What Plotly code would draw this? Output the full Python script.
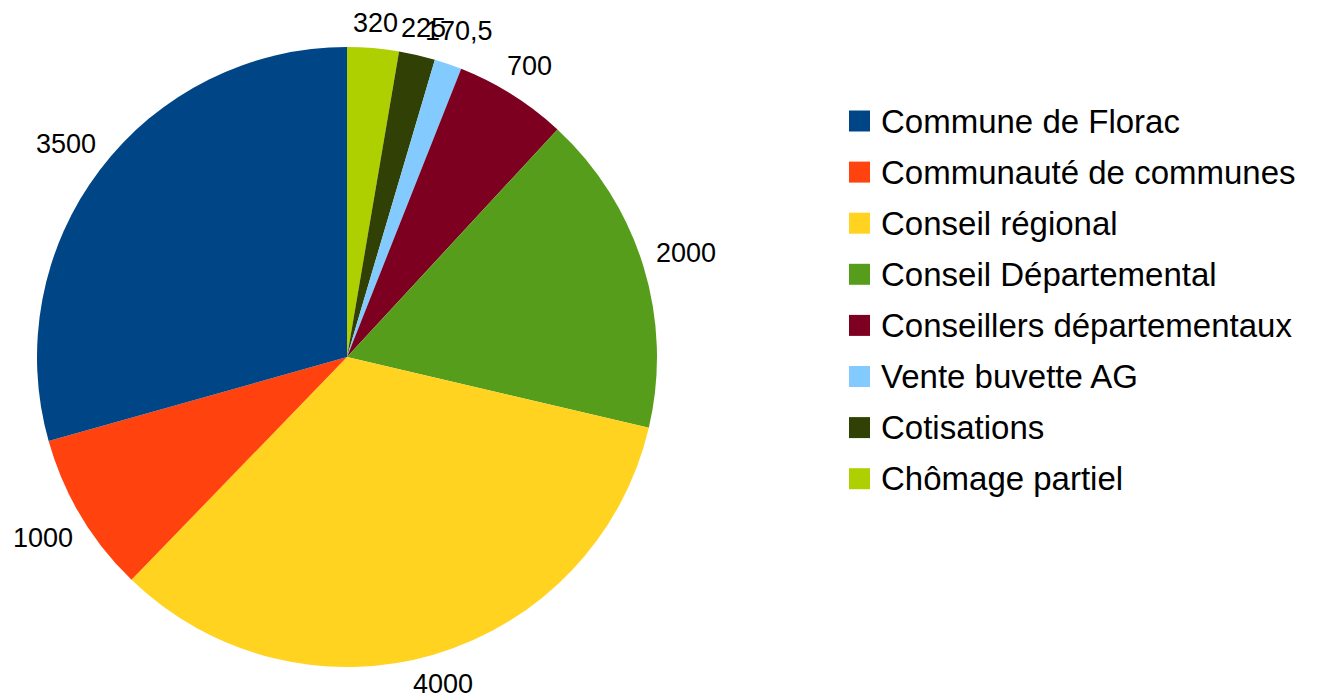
import math
import plotly.graph_objects as go

labels = ["Commune de Florac", "Communauté de communes", "Conseil régional",
          "Conseil Départemental", "Conseillers départementaux",
          "Vente buvette AG", "Cotisations", "Chômage partiel"]
values = [3500, 1000, 4000, 2000, 700, 170.5, 225, 320]
value_text = ["3500", "1000", "4000", "2000", "700", "170,5", "225", "320"]
colors = ["#004586", "#ff420e", "#ffd320", "#579d1c", "#7e0021",
          "#83caff", "#314004", "#aecf00"]

W, H = 1320, 700
OFF = 8                 # page body margin offset
CX, CY, R = 347 - OFF, 357 - OFF, 310   # pie centre / radius in px
LABEL_FS = 27

# The reference goes counterclockwise from 12 o'clock; equivalent to the
# reversed series drawn clockwise from 12 o'clock.
fig = go.Figure(go.Pie(
    labels=labels[::-1], values=values[::-1],
    textinfo="none", sort=False, direction="clockwise", rotation=0,
    marker=dict(colors=colors[::-1], line=dict(width=0)),
    domain=dict(x=[(CX - R)/W, (CX + R)/W], y=[1-(CY + R)/H, 1-(CY - R)/H]),
    hoverinfo="label+value",
    showlegend=False,
))

# value labels outside the slices (LibreOffice style: no leader lines)
total = sum(values)
cum = 0.0
for v, t in zip(values, value_text):
    theta = (cum + v / 2) / total * 2 * math.pi   # counterclockwise from top
    cum += v
    dx, dy = -math.sin(theta), -math.cos(theta)   # screen direction
    hw = len(t) * 0.275 * LABEL_FS
    hh = 10
    d = R + 13 + hw * abs(dx) + hh * abs(dy)
    px, py = CX + d * dx, CY + d * dy
    fig.add_annotation(xref="paper", yref="paper", x=px / W, y=1 - py / H,
                       xanchor="center", yanchor="middle", showarrow=False,
                       text=t, font=dict(family="Liberation Sans", size=LABEL_FS, color="black"))

# custom legend (larger squares and spacing, as in the reference)
leg_x0, leg_sq, leg_y0, leg_step = 849 - OFF, 21, 121 - OFF, 51.1
for i, (lab, col) in enumerate(zip(labels, colors)):
    cy = leg_y0 + i * leg_step
    fig.add_shape(type="rect", xref="paper", yref="paper",
                  x0=leg_x0/W, x1=(leg_x0+leg_sq)/W,
                  y0=1-(cy+leg_sq/2)/H, y1=1-(cy-leg_sq/2)/H,
                  fillcolor=col, line=dict(width=0))
    fig.add_annotation(xref="paper", yref="paper", x=(879-OFF)/W, y=1-cy/H,
                       xanchor="left", yanchor="middle", showarrow=False,
                       text=lab, font=dict(family="Liberation Sans", size=33, color="black"))

fig.update_layout(
    width=W, height=H,
    margin=dict(l=0, r=0, t=0, b=0, autoexpand=False),
    paper_bgcolor="white", plot_bgcolor="white",
    font=dict(family="Liberation Sans", color="black"),
    showlegend=False,
)

fig.write_html("out.html")
